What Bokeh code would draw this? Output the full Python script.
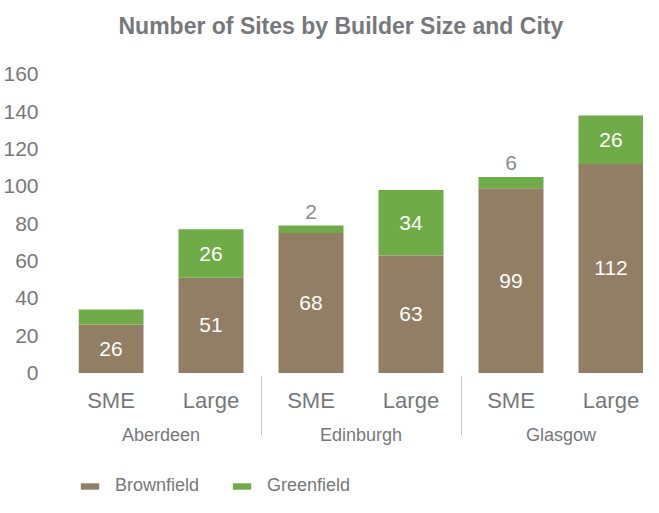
from bokeh.plotting import figure
from bokeh.models import ColumnDataSource, FactorRange, FixedTicker, Legend, LegendItem
from bokeh.core.properties import value
from bokeh.embed import file_html
from bokeh.resources import INLINE

cities = ["Aberdeen", "Edinburgh", "Glasgow"]
sizes = ["SME", "Large"]
brownfield = [26, 51, 75, 63, 99, 112]
greenfield = [8, 26, 4, 35, 6, 26]
brown_labels = ["26", "51", "68", "63", "99", "112"]
green_labels = ["", "26", "2", "34", "6", "26"]
y_ticks = [0, 20, 40, 60, 80, 100, 120, 140, 160]

BROWN = "#917e64"
GREEN = "#6fab46"
GRAY = "#76787b"
FONT = "Liberation Sans"

x = [(c, s) for c in cities for s in sizes]
source = ColumnDataSource(dict(x=x, Brownfield=brownfield, Greenfield=greenfield))

xr = FactorRange(*x, group_padding=0, factor_padding=0,
                 range_padding=-0.175, range_padding_units="absolute")

p = figure(
    x_range=xr,
    y_range=(-66.8, 176.6),
    width=643, height=497,
    output_backend="svg", toolbar_location=None,
    min_border_left=69, min_border_right=0, min_border_top=43, min_border_bottom=0,
    title="Number of Sites by Builder Size and City",
)

rs = p.vbar_stack(["Brownfield", "Greenfield"], x="x", width=0.65, source=source,
                  color=[BROWN, GREEN], line_width=0)

# value labels
by = [b / 2 for b in brownfield]
p.text(x=x, y=by, text=brown_labels, text_color="white", text_font=value(FONT),
       text_font_size="21px", text_align="center", text_baseline="middle")

gin_x, gin_y, gin_t = [], [], []
gab_x, gab_y, gab_t = [], [], []
for xi, b, g, t in zip(x, brownfield, greenfield, green_labels):
    if not t:
        continue
    if g >= 10:
        gin_x.append(xi); gin_y.append(b + g / 2); gin_t.append(t)
    else:
        gab_x.append(xi); gab_y.append(b + g); gab_t.append(t)
p.text(x=gin_x, y=gin_y, text=gin_t, text_color="white", text_font=value(FONT),
       text_font_size="21px", text_align="center", text_baseline="middle")
p.text(x=gab_x, y=gab_y, text=gab_t, text_color="#8a8c8f", text_font=value(FONT),
       text_font_size="21px", text_align="center", text_baseline="middle", y_offset=-14)

# title
p.title.text_font = FONT
p.title.text_font_size = "23px"
p.title.text_font_style = "bold"
p.title.text_color = GRAY
p.title.align = "left"
p.title.offset = 40
p.title.standoff = 10

# axes
p.xgrid.visible = False
p.ygrid.visible = False
p.outline_line_color = None

ya = p.yaxis[0]
ya.ticker = FixedTicker(ticks=y_ticks)
ya.axis_line_color = None
ya.major_tick_line_color = None
ya.minor_tick_line_color = None
ya.major_label_text_font = FONT
ya.major_label_text_font_size = "21px"
ya.major_label_text_color = GRAY
ya.major_label_standoff = 34

xa = p.xaxis[0]
xa.fixed_location = 0
xa.axis_line_color = None
xa.major_tick_line_color = None
xa.minor_tick_line_color = None
xa.major_label_standoff = 9
xa.major_label_text_font = FONT
xa.major_label_text_font_size = "22px"
xa.major_label_text_color = GRAY
xa.group_text_font = FONT
xa.group_text_font_size = "18px"
xa.group_text_font_style = "normal"
xa.group_text_color = GRAY
xa.separator_line_color = "#c8c8c8"
xa.separator_line_width = 1

legend = Legend(items=[LegendItem(label="Brownfield", renderers=[rs[0]]),
                       LegendItem(label="Greenfield", renderers=[rs[1]])],
                orientation="horizontal", location=(0, 1),
                glyph_width=23, glyph_height=8, label_standoff=14, spacing=31,
                label_text_font=FONT, label_text_font_size="18px", label_text_color=GRAY,
                label_height=16, padding=0, margin=0, border_line_color=None,
                background_fill_alpha=0)
p.add_layout(legend, "center")

open("out.html", "w").write(file_html(p, INLINE))
